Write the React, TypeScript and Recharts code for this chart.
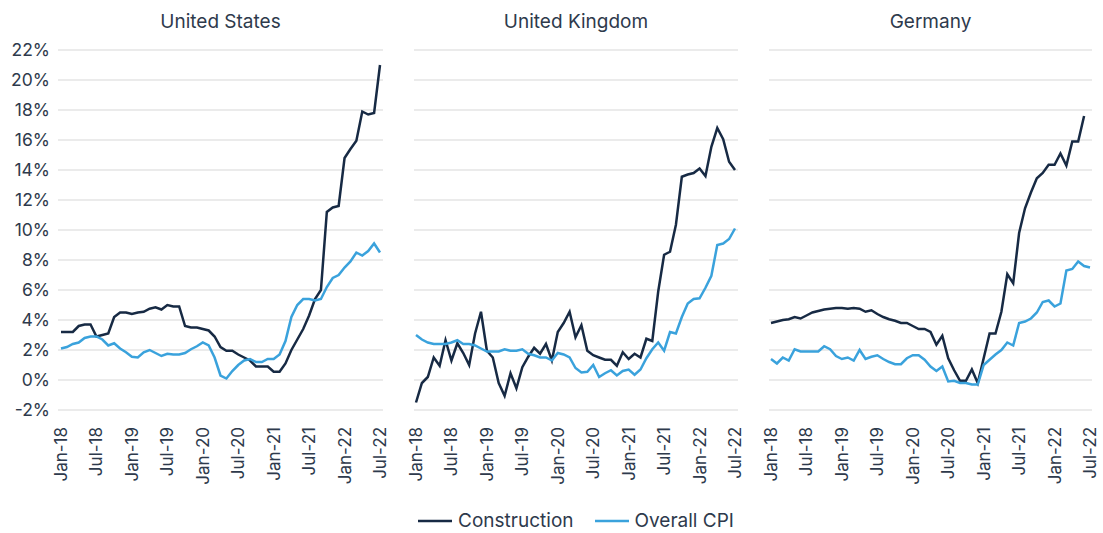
import React from 'react';
import { LineChart, Line, XAxis, YAxis, CartesianGrid, Legend } from 'recharts';

const MONTH_NAMES = ['Jan', 'Feb', 'Mar', 'Apr', 'May', 'Jun', 'Jul', 'Aug', 'Sep', 'Oct', 'Nov', 'Dec'];
const YEARS = ['18', '19', '20', '21', '22'];
const allMonths: string[] = [];
for (const y of YEARS) for (const m of MONTH_NAMES) allMonths.push(`${m}-${y}`);
// Jan-18 .. Jul-22
const categories = allMonths.slice(0, 55);

const yTicks = [-2, 0, 2, 4, 6, 8, 10, 12, 14, 16, 18, 20, 22];

const usConstruction = [
  3.2, 3.2, 3.2, 3.6, 3.7, 3.7, 2.9, 3.0, 3.1, 4.2,
  4.5, 4.5, 4.4, 4.5, 4.55, 4.75, 4.85, 4.7, 5.0, 4.9,
  4.9, 3.6, 3.5, 3.5, 3.4, 3.3, 2.9, 2.2, 1.95, 1.95,
  1.7, 1.5, 1.3, 0.9, 0.9, 0.9, 0.55, 0.55, 1.1, 2.0,
  2.7, 3.4, 4.3, 5.4, 6.0, 11.2, 11.5, 11.6, 14.8, 15.4,
  15.95, 17.9, 17.7, 17.8, 21.0,
];
const usCpi = [
  2.1, 2.2, 2.4, 2.5, 2.8, 2.9, 2.9, 2.7, 2.3, 2.45,
  2.1, 1.85, 1.55, 1.5, 1.85, 2.0, 1.8, 1.6, 1.75, 1.7,
  1.7, 1.8, 2.05, 2.25, 2.5, 2.3, 1.5, 0.3, 0.1, 0.6,
  1.0, 1.3, 1.4, 1.2, 1.2, 1.4, 1.4, 1.7, 2.6, 4.2,
  5.0, 5.4, 5.4, 5.3, 5.4, 6.2, 6.8, 7.0, 7.5, 7.9,
  8.5, 8.3, 8.6, 9.1, 8.5,
];
const ukConstruction = [
  -1.5, -0.2, 0.2, 1.5, 0.95, 2.65, 1.3, 2.45, 1.8, 1.0,
  3.1, 4.55, 1.95, 1.5, -0.2, -1.05, 0.45, -0.55, 0.85, 1.55,
  2.15, 1.75, 2.4, 1.3, 3.2, 3.8, 4.55, 2.85, 3.65, 1.95,
  1.65, 1.5, 1.35, 1.35, 0.95, 1.85, 1.4, 1.75, 1.5, 2.75,
  2.6, 5.9, 8.35, 8.55, 10.35, 13.55, 13.7, 13.8, 14.1, 13.6,
  15.55, 16.8, 16.05, 14.55, 14.0,
];
const ukCpi = [
  3.0, 2.7, 2.5, 2.4, 2.4, 2.4, 2.5, 2.65, 2.4, 2.4,
  2.3, 2.1, 1.9, 1.9, 1.9, 2.05, 1.95, 1.95, 2.05, 1.75,
  1.65, 1.5, 1.5, 1.3, 1.8, 1.7, 1.5, 0.8, 0.5, 0.55,
  1.0, 0.2, 0.45, 0.65, 0.3, 0.6, 0.7, 0.35, 0.7, 1.45,
  2.05, 2.5, 1.95, 3.2, 3.1, 4.2, 5.1, 5.4, 5.45, 6.15,
  6.95, 9.0, 9.1, 9.4, 10.1,
];
const deConstruction: (number | null)[] = [
  3.8, 3.9, 4.0, 4.05, 4.2, 4.1, 4.3, 4.5, 4.6, 4.7,
  4.75, 4.8, 4.8, 4.75, 4.8, 4.75, 4.55, 4.65, 4.4, 4.2,
  4.05, 3.95, 3.8, 3.8, 3.6, 3.4, 3.4, 3.2, 2.35, 2.95,
  1.45, 0.65, -0.05, -0.05, 0.7, -0.2, 1.45, 3.1, 3.1, 4.55,
  7.05, 6.45, 9.8, 11.45, 12.5, 13.45, 13.8, 14.35, 14.35, 15.1,
  14.3, 15.9, 15.9, 17.6, null,
];
const deCpi = [
  1.4, 1.1, 1.5, 1.3, 2.05, 1.9, 1.9, 1.9, 1.9, 2.25,
  2.05, 1.6, 1.4, 1.5, 1.3, 2.0, 1.4, 1.55, 1.65, 1.4,
  1.2, 1.05, 1.05, 1.45, 1.65, 1.65, 1.35, 0.9, 0.6, 0.9,
  -0.1, -0.05, -0.2, -0.2, -0.3, -0.3, 1.0, 1.35, 1.7, 2.0,
  2.5, 2.3, 3.8, 3.9, 4.1, 4.5, 5.2, 5.3, 4.9, 5.1,
  7.3, 7.4, 7.9, 7.6, 7.5,
];

const SERIES_NAMES = { construction: 'Construction', cpi: 'Overall CPI' };
const C_DARK = '#172a44';
const C_LIGHT = '#3aa2dc';
const TEXT = '#2e3a4c';
const FONT = 'Inter, "Noto Sans", sans-serif';
const LEGEND_H = 34;

const buildData = (c: (number | null)[], p: (number | null)[]) =>
  categories.map((m, i) => ({ month: m, construction: c[i], cpi: p[i] }));

const RotTick = (props: any) => {
  const { x, y, payload } = props;
  return (
    <text
      transform={`translate(${x},${y + 9}) rotate(-90)`}
      textAnchor="end"
      dominantBaseline="central"
      fill={TEXT}
      fontSize={17}
      fontFamily={FONT}
    >
      {payload.value}
    </text>
  );
};

const LegendContent = (props: any) => {
  const { payload } = props;
  return (
    <div
      style={{
        display: 'flex',
        justifyContent: 'center',
        alignItems: 'flex-start',
        height: LEGEND_H,
        paddingTop: 12,
        boxSizing: 'border-box',
        fontFamily: FONT,
        fontSize: 19,
        lineHeight: '20px',
        color: TEXT,
      }}
    >
      {(payload || []).map((p: any, idx: number) => (
        <div
          key={idx}
          style={{ display: 'flex', alignItems: 'center', height: 20, marginLeft: idx ? 21 : 0 }}
        >
          <svg width={34} height={20} style={{ display: 'block' }}>
            <line x1={0} x2={34} y1={10} y2={10} stroke={p.color} strokeWidth={2.5} />
          </svg>
          <span style={{ marginLeft: 6, whiteSpace: 'nowrap' }}>{p.value}</span>
        </div>
      ))}
    </div>
  );
};

type PanelProps = {
  title: string;
  construction: (number | null)[];
  cpi: (number | null)[];
  left: number;
  width: number;
  marginLeft: number;
  marginRight: number;
  showY: boolean;
  padLeft: number;
  padRight: number;
  legend?: boolean;
};

const Panel = (p: PanelProps) => {
  const data = buildData(p.construction, p.cpi);
  const xh = p.legend ? 123 - LEGEND_H : 123;
  const yw = p.showY ? 58 : 0;
  const plotLeft = p.marginLeft + yw;
  const plotRight = p.width - p.marginRight;
  return (
    <div style={{ position: 'absolute', left: p.left, top: 0, width: p.width, height: 533 }}>
      <div
        style={{
          position: 'absolute',
          top: 11,
          left: plotLeft,
          width: plotRight - plotLeft,
          textAlign: 'center',
          fontFamily: FONT,
          fontSize: 19,
          lineHeight: '22px',
          color: TEXT,
        }}
      >
        {p.title}
      </div>
      <LineChart
        width={p.width}
        height={533}
        data={data}
        margin={{ top: 50, right: p.marginRight, bottom: 0, left: p.marginLeft }}
      >
        <CartesianGrid vertical={false} stroke="#e4e4e4" strokeWidth={1.3} />
        <XAxis
          dataKey="month"
          interval={5}
          tick={<RotTick />}
          axisLine={false}
          tickLine={false}
          height={xh}
          padding={{ left: p.padLeft, right: p.padRight }}
        />
        <YAxis
          domain={[-2, 22]}
          ticks={yTicks}
          tickFormatter={(v: number) => `${v}%`}
          axisLine={false}
          tickLine={false}
          width={58}
          hide={!p.showY}
          tick={{ fill: TEXT, fontSize: 17.5, fontFamily: FONT }}
        />
        <Line
          type="linear"
          dataKey="construction"
          name={SERIES_NAMES.construction}
          stroke={C_DARK}
          strokeWidth={2.5}
          dot={false}
          isAnimationActive={false}
        />
        <Line
          type="linear"
          dataKey="cpi"
          name={SERIES_NAMES.cpi}
          stroke={C_LIGHT}
          strokeWidth={2.5}
          dot={false}
          isAnimationActive={false}
        />
        {p.legend && <Legend verticalAlign="bottom" content={<LegendContent />} />}
      </LineChart>
    </div>
  );
};

export default function App() {
  return (
    <div
      style={{
        position: 'fixed',
        left: 0,
        top: 0,
        width: 1103,
        height: 533,
        background: '#ffffff',
        overflow: 'hidden',
      }}
    >
      <Panel
        title="United States"
        construction={usConstruction}
        cpi={usCpi}
        left={0}
        width={390}
        marginLeft={0}
        marginRight={7}
        showY={true}
        padLeft={3}
        padRight={3}
      />
      <Panel
        title="United Kingdom"
        construction={ukConstruction}
        cpi={ukCpi}
        left={400}
        width={345}
        marginLeft={14}
        marginRight={7}
        showY={false}
        padLeft={2}
        padRight={3}
        legend
      />
      <Panel
        title="Germany"
        construction={deConstruction}
        cpi={deCpi}
        left={755}
        width={348}
        marginLeft={14}
        marginRight={11}
        showY={false}
        padLeft={2}
        padRight={2}
      />
    </div>
  );
}
